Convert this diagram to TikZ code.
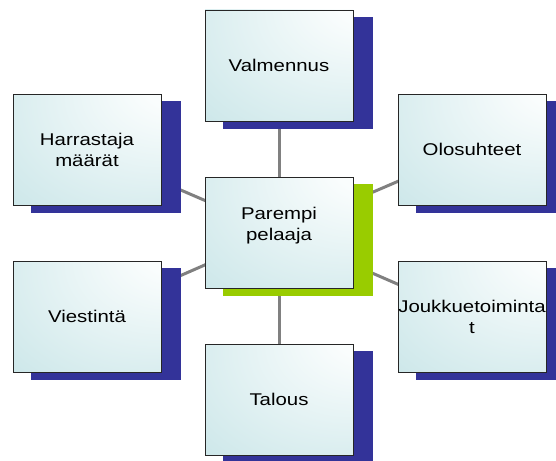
\documentclass[tikz,border=0pt]{standalone}
\usepackage{fontspec}
\setmainfont{Liberation Sans}
\usepackage{graphicx}
\usetikzlibrary{calc}
\definecolor{boxc}{RGB}{192,225,228}
\definecolor{boxw}{RGB}{250,253,253}
\definecolor{shblue}{RGB}{51,51,153}
\definecolor{shgreen}{RGB}{153,204,0}
\definecolor{linkgray}{RGB}{128,128,128}
\pgfdeclareradialshading{boxsh}{\pgfpoint{35bp}{35bp}}{color(0bp)=(boxw); color(12bp)=(boxw); color(70bp)=(boxc); color(100bp)=(boxc)}
\pgfdeclarelayer{bg}
\pgfdeclarelayer{shadowlayer}
\pgfsetlayers{bg,shadowlayer,main}
\newcommand\sx[1]{\scalebox{1.2}[1]{#1}}
\tikzset{
  box/.style={rectangle, minimum width=148pt, minimum height=111pt, inner sep=0pt, outer sep=0pt,
    shading=boxsh, draw=black!85, line width=0.9pt, align=center,
    font=\fontsize{17}{21}\selectfont},
  link/.style={draw=linkgray, line width=3pt},
}
\begin{document}
\begin{tikzpicture}[x=1pt,y=-1pt]
\useasboundingbox (0,0) rectangle (556,460);
\node[box] (v) at (279,65.5) {\sx{Valmennus}};
\node[box] (h) at (87,149.5) {\sx{Harrastaja}\\\sx{määrät}};
\node[box] (o) at (472,149.5) {\sx{Olosuhteet}};
\node[box, text depth=17pt] (p) at (279,232.5) {\sx{Parempi}\\\sx{pelaaja}};
\node[box] (vi) at (87,316.5) {\sx{Viestintä}};
\node[box] (j) at (472,316.5) {\sx{Joukkuetoiminta}\\\sx{t}};
\node[box] (t) at (279,399.5) {\sx{Talous}};
\begin{pgfonlayer}{shadowlayer}
  \foreach \n in {v,h,o,vi,j,t}{
    \fill[shblue] ($(\n.north west)+(18,7)$) rectangle ($(\n.south east)+(20,8)$);
  }
  \fill[shgreen] ($(p.north west)+(18,7)$) rectangle ($(p.south east)+(20,8)$);
\end{pgfonlayer}
\begin{pgfonlayer}{bg}
  \foreach \n in {v,h,o,vi,j,t}{
    \draw[link] (p.center) -- (\n.center);
  }
\end{pgfonlayer}
\end{tikzpicture}
\end{document}
